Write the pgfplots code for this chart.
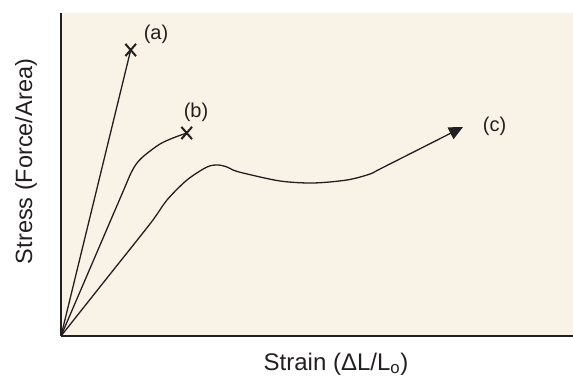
\documentclass[border=0pt]{standalone}
\usepackage{fontspec}
\setmainfont{Liberation Sans}
\usepackage{pgfplots}
\pgfplotsset{compat=1.18}
\usetikzlibrary{arrows.meta}
\definecolor{bg}{RGB}{249,243,231}
\definecolor{ink}{RGB}{35,31,32}
\begin{document}
\begin{tikzpicture}
\useasboundingbox (-61bp,-40bp) rectangle (512bp,336bp);
\begin{axis}[
  at={(0,0)}, anchor=south west,
  scale only axis, width=512bp, height=323bp,
  xmin=0, xmax=512, ymin=0, ymax=323,
  axis x line*=bottom, axis y line*=left,
  xtick=\empty, ytick=\empty,
  axis line style={line width=2.6bp, color=ink},
  axis background/.style={fill=bg},
  clip=false,
]
% curve (a)
\addplot[ink, line width=1.3bp] coordinates {(0,0) (69.7,286)};
\addplot[ink, line width=2bp, mark=x, mark size=7.5bp, mark options={yscale=1.15}, only marks] coordinates {(69.7,286)};
% curve (b)
\addplot[ink, line width=1.3bp, smooth, tension=0.5] coordinates {
(0,0) (35,81.5) (62,144.4) (70,163) (76,173) (84,181) (99,192) (112,198) (125.7,203)};
\addplot[ink, line width=2bp, mark=x, mark size=7.5bp, mark options={yscale=1.15}, only marks] coordinates {(125.7,203)};
% curve (c)
\addplot[ink, line width=1.3bp, smooth, tension=0.5, -{Triangle[length=14bp,width=13bp]}] coordinates {
(0,0) (48,60.5) (90,113.4) (106,136) (126,156) (146,169) (157,171) (166,169) (172,166) (182,163) (219,155) (252,153) (286,156) (309,162) (321,168) (402,209)};
\node[font=\fontsize{20bp}{24bp}\selectfont, text=ink] at (axis cs:95,302) {(a)};
\node[font=\fontsize{20bp}{24bp}\selectfont, text=ink] at (axis cs:135,223.5) {(b)};
\node[font=\fontsize{20bp}{24bp}\selectfont, text=ink] at (axis cs:433.5,210) {(c)};
\end{axis}
\node[rotate=90, anchor=base, font=\fontsize{23.5bp}{28bp}\selectfont, text=ink] at (-29bp,174.5bp) {Stress (Force/Area)};
\node[anchor=base, font=\fontsize{24bp}{28bp}\selectfont, text=ink] at (275bp,-34bp) {Strain (ΔL/L\textsubscript{o})};
\end{tikzpicture}
\end{document}
